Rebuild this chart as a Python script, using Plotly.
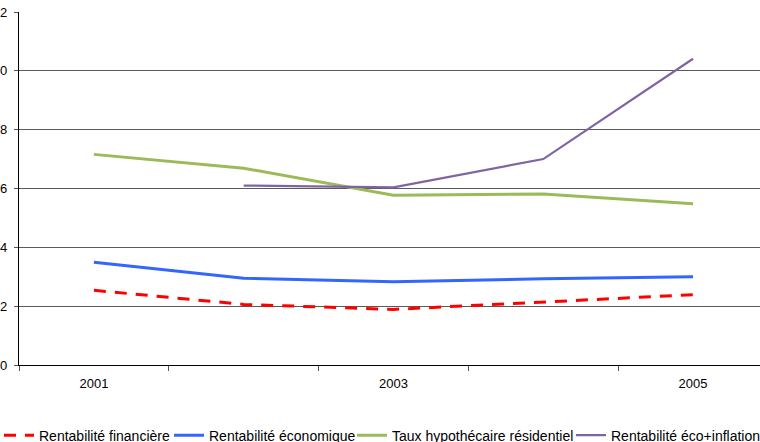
import plotly.graph_objects as go

# Years on the category axis
years = ["2001", "2002", "2003", "2004", "2005"]

# Series values (%)
rentab_financiere = [2.54, 2.06, 1.89, 2.15, 2.39]
rentab_economique = [3.49, 2.95, 2.83, 2.93, 3.00]
taux_hypothecaire = [7.16, 6.69, 5.77, 5.81, 5.48]
rentab_eco_inflation = [None, 6.10, 6.04, 7.00, 10.41]

# Labelled years and y ticks
labelled_years = ["2001", "2003", "2005"]
y_ticks = [0, 2, 4, 6, 8, 10, 12]

x_idx = list(range(len(years)))
label_idx = [years.index(y) for y in labelled_years]

FONT = "Arial"

series = [
    ("Rentabilité financière", rentab_financiere, dict(color="#FF0000", width=3, dash="12px,9px"), "legend"),
    ("Rentabilité économique", rentab_economique, dict(color="#3366FF", width=3), "legend2"),
    ("Taux hypothécaire résidentiel", taux_hypothecaire, dict(color="#9BBB59", width=3), "legend3"),
    ("Rentabilité éco+inflation", rentab_eco_inflation, dict(color="#8064A2", width=2.2), "legend4"),
]

fig = go.Figure()
for name, vals, line, leg in series:
    fig.add_trace(go.Scatter(
        x=x_idx, y=vals, name=name, mode="lines", line=line,
        legend=leg, connectgaps=False,
    ))

# Plot area spans x = 19 .. 760 px; convert pixel text positions to paper units
plot_left, plot_w = 19, 741


def px_to_paper(px):
    return (px - plot_left) / plot_w


legend_common = dict(
    orientation="h", yanchor="middle", y=-0.2, xanchor="left",
    font=dict(family=FONT, size=14, color="#000000"),
    bgcolor="rgba(0,0,0,0)", borderwidth=0, itemwidth=30,
)

fig.update_layout(
    width=760, height=442,
    margin=dict(l=19, r=0, t=12, b=77, autoexpand=False),
    paper_bgcolor="white", plot_bgcolor="white",
    font=dict(family=FONT, size=13, color="#000000"),
    showlegend=True,
    legend=dict(x=px_to_paper(-1), **legend_common),
    legend2=dict(x=px_to_paper(169), **legend_common),
    legend3=dict(x=px_to_paper(352), **legend_common),
    legend4=dict(x=px_to_paper(571), **legend_common),
    xaxis=dict(
        range=[-0.5, 4.447], automargin=False,
        tickmode="array", tickvals=label_idx, ticktext=labelled_years,
        ticks="", showgrid=False, zeroline=False,
        showline=True, linecolor="#000000", linewidth=1.3,
        tickfont=dict(family=FONT, size=13, color="#000000"),
        ticklabelstandoff=6,
        minor=dict(
            tickvals=[-0.5, 0.5, 1.5, 2.5, 3.5],
            ticks="outside", ticklen=5, tickwidth=1, tickcolor="#555555",
            showgrid=False,
        ),
        fixedrange=True,
    ),
    yaxis=dict(
        range=[0, 12], tickmode="array", tickvals=y_ticks, automargin=False,
        ticktext=[str(v) for v in y_ticks],
        ticks="outside", ticklen=4, tickcolor="#555555", tickwidth=1,
        ticklabelstandoff=4,
        showgrid=True, gridcolor="#5a5a5a", gridwidth=1,
        zeroline=False,
        showline=True, linecolor="#000000", linewidth=1.3,
        tickfont=dict(family=FONT, size=13, color="#000000"),
        fixedrange=True,
    ),
)

fig.write_html("out.html")
